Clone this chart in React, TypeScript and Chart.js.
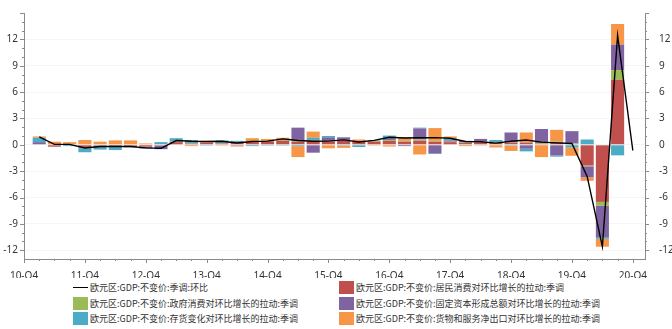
import React, { useEffect, useRef } from 'react';
import { Chart, registerables } from 'chart.js';

Chart.register(...registerables);

// 41 quarters: index 0 = 10-Q4 ... index 40 = 20-Q4
const quarters = [
  '10-Q4',
  '11-Q1', '11-Q2', '11-Q3', '11-Q4',
  '12-Q1', '12-Q2', '12-Q3', '12-Q4',
  '13-Q1', '13-Q2', '13-Q3', '13-Q4',
  '14-Q1', '14-Q2', '14-Q3', '14-Q4',
  '15-Q1', '15-Q2', '15-Q3', '15-Q4',
  '16-Q1', '16-Q2', '16-Q3', '16-Q4',
  '17-Q1', '17-Q2', '17-Q3', '17-Q4',
  '18-Q1', '18-Q2', '18-Q3', '18-Q4',
  '19-Q1', '19-Q2', '19-Q3', '19-Q4',
  '20-Q1', '20-Q2', '20-Q3', '20-Q4',
];

const gdpQoQ = [
  null, 0.9, 0.05, 0.05, -0.37, -0.2, -0.2, -0.2, -0.35, -0.4, 0.48, 0.4, 0.37, 0.4, 0.2, 0.37, 0.42,
  0.67, 0.48, 0.4, 0.42, 0.56, 0.32, 0.5, 0.85, 0.78, 0.8, 0.82, 0.75, 0.37, 0.35, 0.19, 0.4,
  0.55, 0.3, 0.22, 0.15, -3.6, -11.6, 12.45, -0.65,
];

const household = [
  null, 0, -0.2, -0.05, -0.3, -0.1, -0.15, -0.15, -0.2, -0.1, 0.3, 0.15, 0.25, 0.15, 0.2, 0.3, 0.4,
  0.45, 0.35, 0.45, 0.35, 0.45, 0.35, 0.35, 0.45, 0.35, 0.45, 0.35, 0.3, 0.2, 0.27, 0.2, 0.25,
  0.25, 0.1, 0.3, 0.05, -2.35, -6.5, 7.4, null,
];

const government = [
  null, 0, 0, 0, 0, 0, 0, 0, 0, 0, 0.05, 0.05, 0.05, 0.05, 0.05, 0.1, 0.05,
  0.1, 0.1, 0.1, 0.1, 0.1, 0.05, 0.1, 0.1, 0.1, 0.15, 0.1, 0.05, 0.05, 0.1, 0.1, 0.05,
  0.05, 0.1, 0.1, 0.1, -0.1, -0.45, 1.1, null,
];

const investment = [
  null, 0.3, 0.05, 0, -0.1, -0.15, -0.1, -0.1, -0.2, -0.4, 0.05, 0, 0, 0, -0.1, 0, 0,
  0.05, 1.5, -0.9, 0.4, 0.3, 0, 0.05, 0.2, -0.15, 1.25, -0.95, 0.15, 0.2, 0.3, 0, 1.1,
  -0.45, 1.6, -1.2, 1.4, -1.25, -3.55, 2.9, null,
];

const inventory = [
  null, 0.5, -0.05, -0.1, -0.45, -0.3, -0.35, -0.05, -0.05, 0.3, 0.35, 0.35, -0.1, 0.3, 0.2, -0.15, -0.1,
  -0.1, -0.15, 0.25, 0.15, -0.1, -0.25, 0, 0.3, 0, 0.1, -0.1, 0.25, -0.05, 0, 0.25, -0.1,
  -0.3, -0.05, -0.15, -0.3, 0.6, -0.2, -1.2, null,
];

const netExports = [
  null, 0.15, 0.3, 0.3, 0.55, 0.35, 0.5, 0.5, 0.15, 0, -0.05, -0.15, 0.15, -0.1, -0.1, 0.35, 0.2,
  0.2, -1.25, 0.7, -0.4, -0.25, 0.2, -0.1, -0.2, 0.4, -1.1, 1.45, 0.2, -0.1, -0.1, -0.3, -0.6,
  1.1, -1.35, 1.3, -0.95, -0.4, -0.9, 2.35, null,
];

const yTickValues = [-12, -9, -6, -3, 0, 3, 6, 9, 12];
const xTickIndices = [0, 4, 8, 12, 16, 20, 24, 28, 32, 36, 40];

const seriesNames = {
  gdp: '欧元区:GDP:不变价:季调:环比',
  household: '欧元区:GDP:不变价:居民消费对环比增长的拉动:季调',
  government: '欧元区:GDP:不变价:政府消费对环比增长的拉动:季调',
  investment: '欧元区:GDP:不变价:固定资本形成总额对环比增长的拉动:季调',
  inventory: '欧元区:GDP:不变价:存货变化对环比增长的拉动:季调',
  netExports: '欧元区:GDP:不变价:货物和服务净出口对环比增长的拉动:季调',
};

const colors = {
  gdp: '#000000',
  household: '#C0504D',
  government: '#9BBB59',
  investment: '#8064A2',
  inventory: '#4BACC6',
  netExports: '#F79646',
};

const Y_MIN = -13;
const Y_MAX = 15;
const X_MIN = 0;
const X_MAX = 40.8;

const W = 672;
const H = 278;

function toPoints(arr: (number | null)[]) {
  const out: { x: number; y: number }[] = [];
  arr.forEach((v, i) => {
    if (v !== null && v !== undefined) out.push({ x: i, y: v });
  });
  return out;
}

const tickPlugin = {
  id: 'axisTicks',
  afterDraw(chart: any) {
    const { ctx } = chart;
    const x = chart.scales.x;
    const y = chart.scales.y;
    const y2 = chart.scales.y2;
    ctx.save();
    ctx.strokeStyle = '#8a8a8a';
    ctx.lineWidth = 1;
    ctx.beginPath();
    for (let i = 0; i <= 40; i++) {
      const px = Math.round(x.getPixelForValue(i)) + 0.5;
      const len = i % 4 === 0 ? 4 : 2;
      ctx.moveTo(px, x.top);
      ctx.lineTo(px, x.top + len);
    }
    for (let v = Y_MIN + 1; v <= Y_MAX; v++) {
      const py = Math.round(y.getPixelForValue(v)) + 0.5;
      const len = v % 3 === 0 ? 4 : 2;
      ctx.moveTo(y.right - len, py);
      ctx.lineTo(y.right, py);
      ctx.moveTo(y2.left, py);
      ctx.lineTo(y2.left + len, py);
    }
    ctx.stroke();
    ctx.restore();
  },
};

const legendItems = [
  { key: 'gdp', kind: 'line' },
  { key: 'household', kind: 'box' },
  { key: 'government', kind: 'box' },
  { key: 'investment', kind: 'box' },
  { key: 'inventory', kind: 'box' },
  { key: 'netExports', kind: 'box' },
];

export default function App() {
  const canvasRef = useRef<HTMLCanvasElement | null>(null);

  useEffect(() => {
    if (!canvasRef.current) return;
    const barCommon = {
      type: 'bar' as const,
      order: 1,
      stack: 'contrib',
      barPercentage: 0.86,
      categoryPercentage: 1,
      borderWidth: 0,
    };
    const chart = new Chart(canvasRef.current, {
      type: 'bar',
      data: {
        datasets: [
          {
            type: 'line',
            label: seriesNames.gdp,
            data: toPoints(gdpQoQ),
            borderColor: colors.gdp,
            backgroundColor: colors.gdp,
            borderWidth: 1.4,
            pointRadius: 0,
            tension: 0,
            order: 0,
            stack: 'line',
          } as any,
          { ...barCommon, label: seriesNames.household, data: toPoints(household), backgroundColor: colors.household },
          { ...barCommon, label: seriesNames.government, data: toPoints(government), backgroundColor: colors.government },
          { ...barCommon, label: seriesNames.investment, data: toPoints(investment), backgroundColor: colors.investment },
          { ...barCommon, label: seriesNames.inventory, data: toPoints(inventory), backgroundColor: colors.inventory },
          { ...barCommon, label: seriesNames.netExports, data: toPoints(netExports), backgroundColor: colors.netExports },
        ],
      },
      options: {
        responsive: false,
        animation: false,
        devicePixelRatio: 1,
        layout: { padding: { top: 13, left: 0, right: 0, bottom: 0 } },
        plugins: { legend: { display: false }, tooltip: { enabled: false } },
        scales: {
          x: {
            type: 'linear',
            offset: false,
            min: X_MIN,
            max: X_MAX,
            stacked: true,
            grid: { display: false, offset: false },
            border: { display: true, color: '#8a8a8a' },
            afterBuildTicks: (scale: any) => {
              scale.ticks = xTickIndices.map((v) => ({ value: v }));
            },
            afterFit: (scale: any) => {
              scale.height = H - 259;
            },
            ticks: {
              autoSkip: false,
              maxRotation: 0,
              padding: 3,
              color: '#333333',
              font: { family: 'Noto Sans', size: 10 },
              callback: (v: any) => quarters[Math.round(Number(v))] ?? '',
            },
          },
          y: {
            type: 'linear',
            position: 'left',
            stacked: true,
            min: Y_MIN,
            max: Y_MAX,
            grid: { color: '#f5f5f5', drawTicks: false, lineWidth: 1 },
            border: { display: true, color: '#8a8a8a' },
            afterBuildTicks: (scale: any) => {
              scale.ticks = yTickValues.map((v) => ({ value: v }));
            },
            afterFit: (scale: any) => {
              scale.width = 24;
            },
            ticks: {
              padding: 6,
              color: '#333333',
              font: { family: 'Noto Sans', size: 10 },
            },
          },
          y2: {
            type: 'linear',
            position: 'right',
            min: Y_MIN,
            max: Y_MAX,
            grid: { display: false },
            border: { display: true, color: '#8a8a8a' },
            afterBuildTicks: (scale: any) => {
              scale.ticks = yTickValues.map((v) => ({ value: v }));
            },
            afterFit: (scale: any) => {
              scale.width = 27;
            },
            ticks: {
              padding: 6,
              color: '#333333',
              font: { family: 'Noto Sans', size: 10 },
            },
          },
        },
      } as any,
      plugins: [tickPlugin],
    });
    return () => chart.destroy();
  }, []);

  const legendPos = [
    { left: 73, top: 280 },
    { left: 339, top: 280 },
    { left: 73, top: 296 },
    { left: 339, top: 296 },
    { left: 73, top: 311 },
    { left: 339, top: 311 },
  ];

  return (
    <div style={{ position: 'fixed', left: 0, top: 0, width: W, height: 329, background: '#ffffff', overflow: 'hidden' }}>
      <canvas ref={canvasRef} width={W} height={H} style={{ position: 'absolute', left: 0, top: 0, width: W, height: H }} />
      {legendItems.map((item, i) => (
        <div
          key={item.key}
          style={{
            position: 'absolute',
            left: legendPos[i].left,
            top: legendPos[i].top,
            height: 14,
            display: 'flex',
            alignItems: 'center',
            fontFamily: '"Noto Sans CJK SC", "Noto Sans", sans-serif',
            fontSize: 9,
            color: '#333333',
            whiteSpace: 'nowrap',
          }}
        >
          {item.kind === 'line' ? (
            <span style={{ display: 'inline-block', width: 15, height: 0, borderTop: '1.5px solid #000', marginRight: 2 }} />
          ) : (
            <span
              style={{
                display: 'inline-block',
                width: 15,
                height: 13,
                background: (colors as any)[item.key],
                marginRight: 2,
              }}
            />
          )}
          <span>{(seriesNames as any)[item.key]}</span>
        </div>
      ))}
    </div>
  );
}
